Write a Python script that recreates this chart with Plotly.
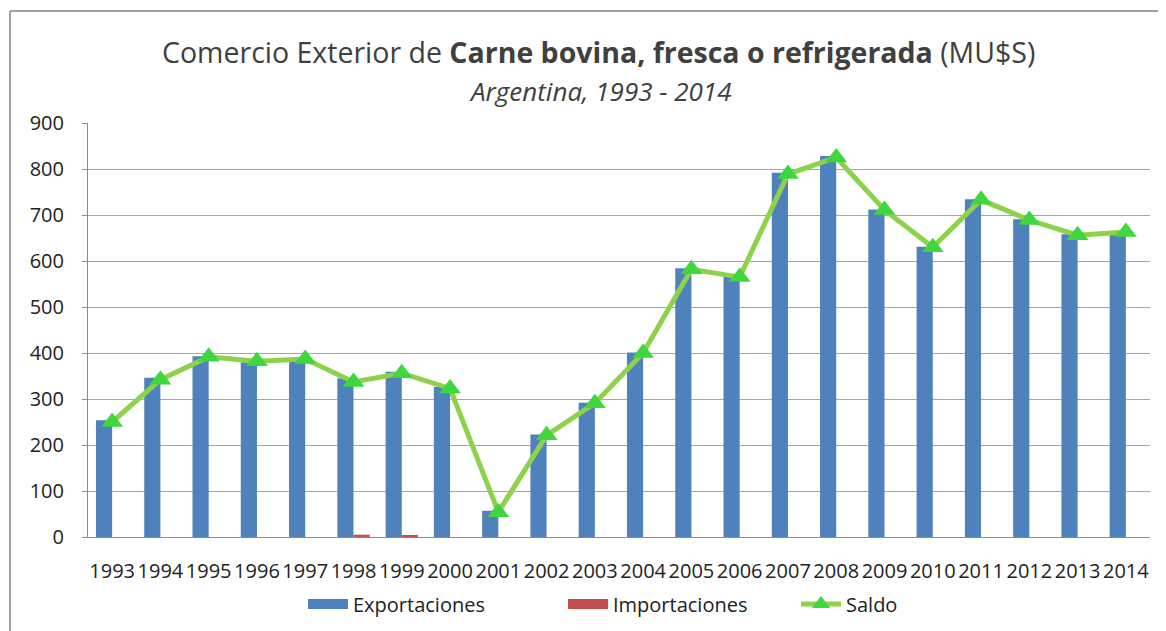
import plotly.graph_objects as go

years = [str(y) for y in range(1993, 2015)]
exportaciones = [254, 346, 393, 380, 383, 345, 359, 326, 57, 223, 292, 401,
                 584, 566, 792, 828, 712, 631, 734, 691, 658, 664]
importaciones = [0, 0, 0, 0, 0, 5, 2.5, 0, 0, 0, 0, 0,
                 0, 0, 0, 0, 0, 0, 0, 0, 0, 0]
saldo = [250, 342, 392, 382, 387, 337, 356, 323, 54, 221, 291, 400,
         582, 565, 789, 825, 711, 630, 733, 689, 656, 663]

FONT = "Open Sans"
BLUE = "#4F81BD"
RED = "#C0504D"
LINE_GREEN = "#8CD24A"
MARK_GREEN = "#3FD63F"

W, H = 1158, 623
L, R, T, B = 80, 16, 115, 94
PW, PH = W - L - R, H - T - B


def px(xf):
    return (xf - L) / PW


def py(yf):
    return (H - B - yf) / PH


fig = go.Figure()
fig.add_trace(go.Bar(x=years, y=exportaciones, name="Exportaciones", showlegend=False,
                     marker=dict(color=BLUE, line=dict(width=0))))
fig.add_trace(go.Bar(x=years, y=importaciones, name="Importaciones", showlegend=False,
                     marker=dict(color=RED, line=dict(width=0))))
fig.add_trace(go.Scatter(x=years, y=saldo, name="Saldo", mode="lines+markers",
                         legend="legend3",
                         line=dict(color=LINE_GREEN, width=5),
                         marker=dict(symbol="triangle-up", size=19, color=MARK_GREEN,
                                     line=dict(width=0))))
# legend swatches for the bar series (wide rectangles like the original)
fig.add_trace(go.Scatter(x=[None], y=[None], mode="lines", name="Exportaciones",
                         legend="legend", line=dict(color=BLUE, width=11)))
fig.add_trace(go.Scatter(x=[None], y=[None], mode="lines", name="Importaciones",
                         legend="legend2", line=dict(color=RED, width=11)))

LEG_Y = py(596)


def leg(xf):
    return dict(orientation="h", yref="paper", y=LEG_Y, yanchor="middle",
                xref="paper", x=px(xf), xanchor="left",
                font=dict(size=20, color="#222222"),
                bgcolor="rgba(0,0,0,0)", itemwidth=40, tracegroupgap=0)


fig.update_layout(
    width=W, height=H,
    paper_bgcolor="white", plot_bgcolor="white",
    margin=dict(l=L, r=R, t=T, b=B, autoexpand=False),
    barmode="group", bargap=0.33, bargroupgap=0,
    font=dict(family=FONT, size=20, color="#222222"),
    xaxis=dict(range=[-0.5, 21.5], showgrid=False, showline=True, linecolor="#8C8C8C",
               linewidth=1, ticks="", tickfont=dict(size=20), ticklabelstandoff=16,
               automargin=False),
    yaxis=dict(range=[0, 900], dtick=100, showgrid=True, gridcolor="#A6A6A6",
               gridwidth=1, showline=True, linecolor="#8C8C8C", linewidth=1,
               zeroline=False, ticks="outside", ticklen=5, tickcolor="#8C8C8C",
               tickfont=dict(size=20), ticklabelstandoff=14, automargin=False),
    legend=leg(295),
    legend2=leg(555),
    legend3=leg(788),
    annotations=[
        dict(text="Comercio Exterior de <b>Carne bovina, fresca o refrigerada</b> (MU$S)",
             xref="paper", yref="paper", x=px(590), y=py(44),
             xanchor="center", yanchor="middle", showarrow=False,
             font=dict(family=FONT, size=28.5, color="#404040")),
        dict(text="<i>Argentina, 1993 - 2014</i>",
             xref="paper", yref="paper", x=px(592), y=py(83),
             xanchor="center", yanchor="middle", showarrow=False,
             font=dict(family=FONT, size=26, color="#404040")),
    ],
    shapes=[
        dict(type="line", xref="paper", yref="paper", x0=px(2), x1=1.1,
             y0=py(3), y1=py(3), line=dict(color="#A0A0A0", width=2)),
        dict(type="line", xref="paper", yref="paper", x0=px(2), x1=px(2),
             y0=py(3), y1=-0.3, line=dict(color="#A0A0A0", width=2)),
    ],
)

fig.write_html("out.html")
